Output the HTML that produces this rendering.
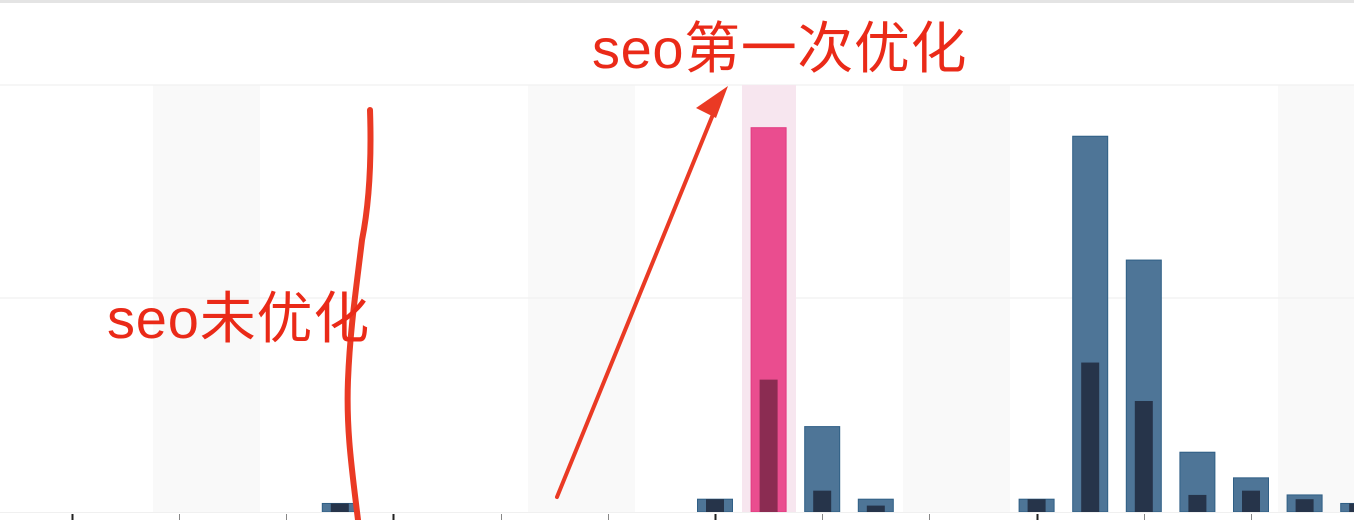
<!DOCTYPE html>
<html><head><meta charset="utf-8">
<style>
html,body{margin:0;padding:0;background:#fff;}
svg{display:block;}
</style></head>
<body>
<svg id="chart" width="1354" height="520" xmlns="http://www.w3.org/2000/svg">
  <rect x="0" y="0" width="1354" height="3" fill="#e4e4e4"/>
  <g id="bands"></g>
  <line x1="0" y1="85" x2="1354" y2="85" stroke="#eeeeee"/>
  <line x1="0" y1="298" x2="1354" y2="298" stroke="#eeeeee"/>
  <rect x="742" y="85" width="54" height="427" fill="#f7e6ef"/>
  <g id="bars"></g>
  <line x1="0" y1="512.5" x2="1354" y2="512.5" stroke="#f0f0f0"/>
  <g id="ticks"></g>
  <g fill="none" stroke="#ea3a24" stroke-linecap="round">
    <path d="M370 110 C372 170 368 210 362 240 C356 290 350 330 348 380 C346 430 352 470 358 520" stroke-width="6"/>
    <line x1="557" y1="497" x2="714" y2="112" stroke-width="4"/>
    <polygon points="728,86 696,108 716,118" fill="#ea3a24" stroke="none"/>
  </g>
  <text x="592" y="68" font-size="56" letter-spacing="0.6" fill="#ea2a18" font-family="Liberation Sans, Noto Sans CJK SC, sans-serif">seo第一次优化</text>
  <text x="107" y="338" font-size="56" letter-spacing="0.8" fill="#ea2a18" font-family="Liberation Sans, Noto Sans CJK SC, sans-serif">seo未优化</text>
</svg>
<script>
const slots = [-7,0,1,2,3,6,7,8,9,10,11,12];
const outerValues = [2,3,90,20,3,3,88,59,14,8,4,2];
const innerValues = [2,3,31,5,1.5,3,35,26,4,5,3,2];
const highlightSlot = 1;
const tickSlots = [-12,-10,-8,-6,-4,-2,0,2,4,6,8,10];
const NS='http://www.w3.org/2000/svg';
const baseY=512, maxV=100, plotH=427;
const step=53.6, x0=715;
function xs(s){return x0+s*step;}
function ys(v){return baseY - v/maxV*plotH;}
const bands=document.getElementById('bands');
[153,528,903,1278].forEach(function(bx){
  const r=document.createElementNS(NS,'rect');
  r.setAttribute('x',bx);r.setAttribute('y',85);r.setAttribute('width',107);r.setAttribute('height',427);r.setAttribute('fill','#f9f9f9');
  
  
  bands.appendChild(r);
});
const bars=document.getElementById('bars');
slots.forEach(function(s,i){
  const cx=xs(s);
  const hl = s===highlightSlot;
  const o=document.createElementNS(NS,'rect');
  o.setAttribute('x',cx-17.5);o.setAttribute('y',ys(outerValues[i]));
  o.setAttribute('width',35);o.setAttribute('height',baseY-ys(outerValues[i]));
  o.setAttribute('fill',hl?'#ea4d8f':'#4e7597');o.setAttribute('stroke',hl?'#e23a80':'#2f5f86');o.setAttribute('stroke-width',1);
  
  
  bars.appendChild(o);
  const n=document.createElementNS(NS,'rect');
  n.setAttribute('x',cx-9);n.setAttribute('y',ys(innerValues[i]));
  n.setAttribute('width',18);n.setAttribute('height',baseY-ys(innerValues[i]));
  n.setAttribute('fill',hl?'#8b2c52':'#26344a');
  
  
  bars.appendChild(n);
});
const ticks=document.getElementById('ticks');
tickSlots.forEach(function(s){
  const l=document.createElementNS(NS,'line');
  const x=Math.round(xs(s))+0.5;
  l.setAttribute('x1',x);l.setAttribute('x2',x);l.setAttribute('y1',514);l.setAttribute('y2',520);
  l.setAttribute('stroke',(s%6===0)?'#222':'#888');l.setAttribute('stroke-width',(s%6===0)?2:1);
  
  
  ticks.appendChild(l);
});
</script>
</body></html>
